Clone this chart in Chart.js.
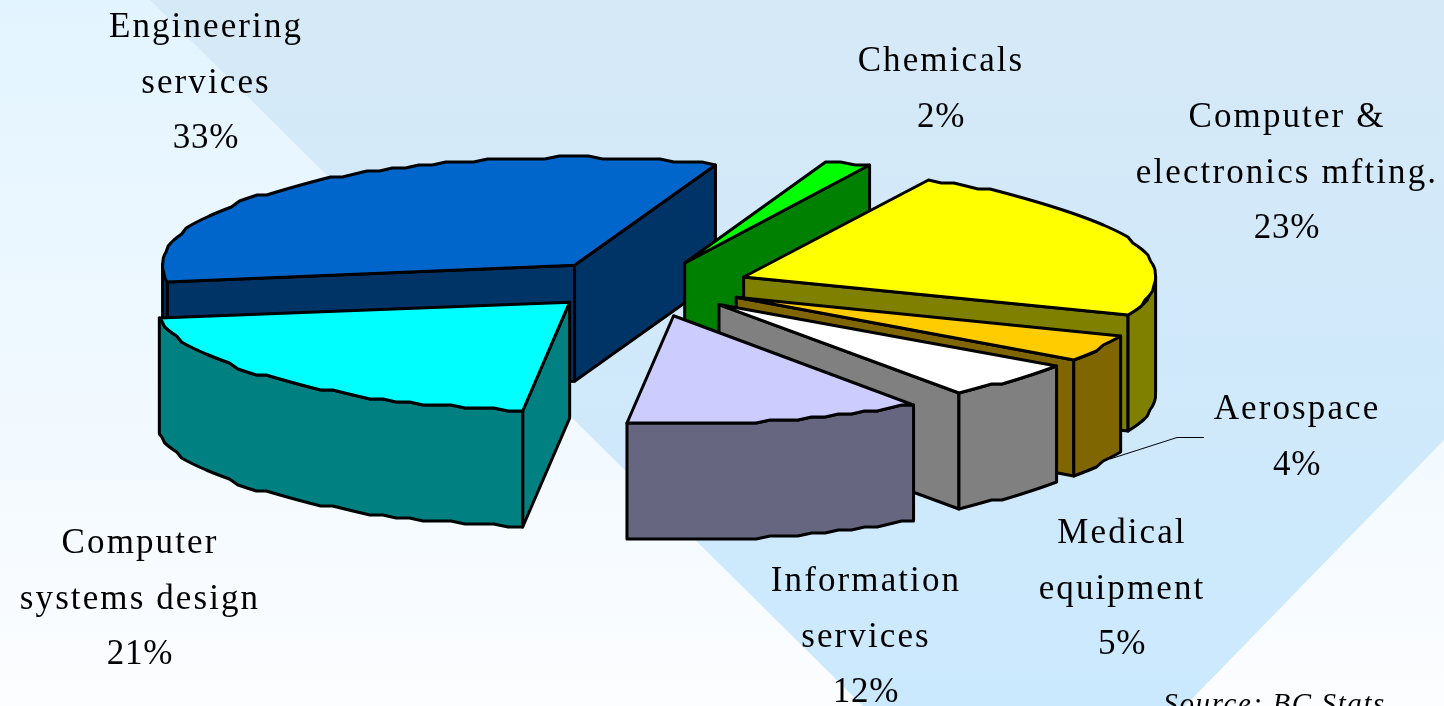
<!DOCTYPE html>
<html><head><meta charset="utf-8">
<style>html,body{margin:0;padding:0;overflow:hidden;background:#fff}canvas{display:block}</style>
<script src="https://cdn.jsdelivr.net/npm/chart.js@4"></script>
</head><body><canvas id="c" width="1444" height="706"></canvas>
<script>
// ---- data (clockwise from the Chemicals slice); labels show them rounded ----
const categories = ['Chemicals','Computer & electronics mfting.','Aerospace','Medical equipment','Information services','Computer systems design','Engineering services'];
const shares = [1.85,23.45,3.86,5.39,11.7,20.8,32.95];
// ---- slice styling ----
const topColors  = ['#00ff00','#ffff00','#ffcc00','#ffffff','#ccccff','#00ffff','#0066cc'];
const wallColors = ['#008000','#808000','#806600','#808080','#666680','#008080','#003366'];
const explode = [75,95,92,90,74,123,127];
const lift    = [-2,3,3,5,14,-4,8];
const radii   = [412,412,412,412,412,415,412];
const paintOrder = [6,0,1,2,3,5,4];
// ---- label layout ----
const labelLines = [['Chemicals'],['Computer &','electronics mfting.'],['Aerospace'],['Medical','equipment'],['Information','services'],['Computer','systems design'],['Engineering','services']];
const labelCenterX = [941,1287,1297,1122,866,140,206];
const labelFirstBaseline = [71,127,419,543,591,553,37];
// ---- projection ----
const PIE = {cx:655, cy:283, tilt:0.262, depth:116, stepY:3, stepA:2*Math.PI/180};

function apex(arc,i){
  const mid=(arc.startAngle+arc.endAngle)/2;
  return {x:PIE.cx+explode[i]*Math.cos(mid), y:PIE.cy+explode[i]*PIE.tilt*Math.sin(mid)+lift[i], R:radii[i]};
}
function rim(a,t){
  const y=a.y+a.R*PIE.tilt*Math.sin(t);
  return {x:a.x+a.R*Math.cos(t), y:Math.round(y/PIE.stepY)*PIE.stepY};
}
function rimPoints(a,t0,t1){
  const n=Math.max(1,Math.round((t1-t0)/PIE.stepA)), pts=[];
  for(let k=0;k<=n;k++) pts.push(rim(a,t0+(t1-t0)*k/n));
  return pts;
}
function poly(ctx,pts,fill){
  ctx.beginPath();
  pts.forEach((p,k)=>k?ctx.lineTo(p.x,p.y):ctx.moveTo(p.x,p.y));
  ctx.closePath();
  ctx.fillStyle=fill;ctx.fill();ctx.stroke();
}
function wallFrom(pts,fill,ctx){
  const low=pts.slice().reverse().map(p=>({x:p.x,y:p.y+PIE.depth}));
  poly(ctx,pts.concat(low),fill);
}
const pie3d={
  id:'pie3d',
  beforeDraw(chart){
    const ctx=chart.ctx,W=chart.width,H=chart.height;
    let g=ctx.createLinearGradient(0,0,0,H);
    g.addColorStop(0,'#e2f4ff');g.addColorStop(1,'#fcfdff');
    ctx.fillStyle=g;ctx.fillRect(0,0,W,H);
    g=ctx.createLinearGradient(0,0,0,H);
    g.addColorStop(0,'#d6e9f7');g.addColorStop(1,'#cbe9fe');
    ctx.fillStyle=g;
    ctx.beginPath();ctx.moveTo(150,0);ctx.lineTo(W,0);ctx.lineTo(W,440);ctx.lineTo(1185,H);ctx.lineTo(863,H);ctx.closePath();ctx.fill();
  },
  beforeDatasetDraw(chart){
    const ctx=chart.ctx,arcs=chart.getDatasetMeta(0).data;
    ctx.save();
    ctx.lineWidth=3;ctx.strokeStyle='#000';ctx.lineJoin='round';
    paintOrder.forEach(i=>{
      const arc=arcs[i],a=apex(arc,i),t0=arc.startAngle,t1=arc.endAngle;
      const pApex={x:a.x,y:a.y};
      if(Math.cos(t0)<0) wallFrom([pApex,rim(a,t0)],wallColors[i],ctx);
      if(Math.cos(t1)>0) wallFrom([pApex,rim(a,t1)],wallColors[i],ctx);
      // outer wall: only the part of the rim facing the viewer
      let best=null;
      for(const s of [0,2*Math.PI,-2*Math.PI]){
        const lo=Math.max(t0,s),hi=Math.min(t1,s+Math.PI);
        if(hi>lo) best=[lo,hi];
      }
      if(best) wallFrom(rimPoints(a,best[0],best[1]),wallColors[i],ctx);
      // top face: library arc squashed onto the tilted plane
      const k=(a.R-1.5)/arc.outerRadius;
      ctx.save();
      ctx.translate(a.x,a.y);ctx.scale(k,k*PIE.tilt);ctx.translate(-arc.x,-arc.y);
      arc.draw(ctx);
      ctx.restore();
      poly(ctx,[pApex].concat(rimPoints(a,t0,t1)),topColors[i]);
    });
    ctx.restore();
    return false;
  },
  afterDraw(chart){
    const ctx=chart.ctx;
    ctx.save();
    ctx.strokeStyle='#000';ctx.lineWidth=1;
    ctx.beginPath();ctx.moveTo(1110,459);ctx.lineTo(1177,437.5);ctx.lineTo(1204,437.5);ctx.stroke();
    ctx.fillStyle='#000';ctx.textAlign='center';ctx.textBaseline='alphabetic';
    ctx.font='35px "Liberation Serif"';
    categories.forEach((c,i)=>{
      const lines=labelLines[i];
      ctx.letterSpacing='2.1px';
      lines.forEach((s,j)=>ctx.fillText(s,labelCenterX[i],labelFirstBaseline[i]+j*55.5));
      ctx.letterSpacing='0.7px';
      ctx.fillText(Math.round(shares[i])+'%',labelCenterX[i],labelFirstBaseline[i]+lines.length*55.5);
    });
    ctx.font='italic 29px "Liberation Serif"';ctx.textAlign='right';ctx.letterSpacing='1.6px';
    ctx.fillText('Source: BC Stats',1386,713);
    ctx.restore();
  }
};
new Chart(document.getElementById('c'),{
  type:'pie',
  data:{labels:categories,datasets:[{data:shares,backgroundColor:topColors,borderWidth:0}]},
  options:{responsive:false,animation:false,rotation:20,
    plugins:{legend:{display:false},tooltip:{enabled:false}},events:[]},
  plugins:[pie3d]
});
</script></body></html>
